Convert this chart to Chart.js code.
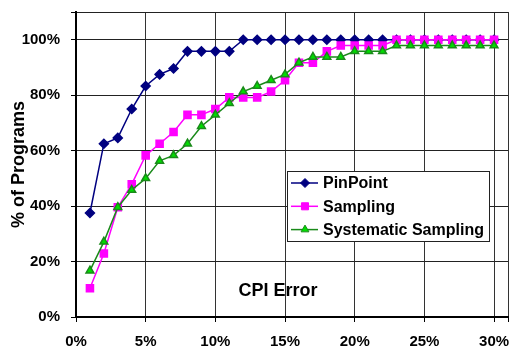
<!DOCTYPE html>
<html>
<head>
<meta charset="utf-8">
<script src="https://cdn.jsdelivr.net/npm/chart.js@4/dist/chart.umd.min.js"></script>
<style>
  html, body { margin: 0; padding: 0; background: #fff; overflow: hidden; }
  #grafica { display: block; }
</style>
</head>
<body>
<canvas id="grafica" width="509" height="347"></canvas>
<script>
// error de CPI (%) en el eje x
var errores = [1, 2, 3, 4, 5, 6, 7, 8, 9, 10, 11, 12, 13, 14, 15,
  16, 17, 18, 19, 20, 21, 22, 23, 24, 25, 26, 27, 28, 29, 30];

// % de programas por serie
var pinpoint = [37.5, 62.5, 64.6, 75, 83.3, 87.5, 89.6, 95.8, 95.8, 95.8, 95.8,
  100, 100, 100, 100, 100, 100, 100, 100, 100, 100, 100, 100, 100, 100, 100, 100, 100, 100, 100];
var sampling = [10.4, 22.9, 39.6, 47.9, 58.3, 62.5, 66.7, 72.9, 72.9, 75, 79.2,
  79.2, 79.2, 81.3, 85.4, 91.7, 91.7, 95.8, 97.9, 97.9, 97.9, 97.9,
  100, 100, 100, 100, 100, 100, 100, 100];
var systematic = [16.7, 27.1, 39.6, 45.8, 50, 56.3, 58.3, 62.5, 68.8, 72.9, 77.1,
  81.3, 83.3, 85.4, 87.5, 91.7, 93.8, 93.8, 93.8, 95.8, 95.8, 95.8,
  97.9, 97.9, 97.9, 97.9, 97.9, 97.9, 97.9, 97.9];

var nombres = ["PinPoint", "Sampling", "Systematic Sampling"];
var ticksY = [0, 20, 40, 60, 80, 100];
var ticksX = [0, 5, 10, 15, 20, 25, 30];

function puntos(valores) {
  return errores.map((x, i) => ({ x: x, y: valores[i] }));
}

var fuente = "'Liberation Sans', Arial, sans-serif";
Chart.defaults.font.family = fuente;
Chart.defaults.color = "#000";

// leyenda dentro del area de la grafica
const leyenda = {
  id: "leyenda",
  afterDraw(chart) {
    const ctx = chart.ctx;
    const x0 = 287, y0 = 171, w = 202, h = 70;
    ctx.save();
    ctx.fillStyle = "#fff";
    ctx.fillRect(x0, y0, w, h);
    ctx.strokeStyle = "#222";
    ctx.lineWidth = 1;
    ctx.strokeRect(x0 + 0.5, y0 + 0.5, w, h);
    chart.data.datasets.forEach((ds, i) => {
      const y = 183 + i * 23.3;
      ctx.strokeStyle = ds.borderColor;
      ctx.lineWidth = 1.5;
      ctx.beginPath();
      ctx.moveTo(291, y);
      ctx.lineTo(318, y);
      ctx.stroke();
      ctx.fillStyle = ds.pointBackgroundColor;
      ctx.strokeStyle = ds.pointBorderColor;
      ctx.lineWidth = 1;
      Chart.helpers.drawPoint(ctx, { pointStyle: ds.pointStyle, radius: ds.pointRadius, rotation: 0, borderWidth: 1 }, 305, y);
      ctx.fillStyle = "#000";
      ctx.font = "bold 16px " + fuente;
      ctx.textBaseline = "middle";
      ctx.fillText(ds.label, 323, y + 1);
    });
    // titulo del eje x, va dentro de la grafica
    ctx.font = "bold 18px " + fuente;
    ctx.textAlign = "center";
    ctx.fillText("CPI Error", 278, 291);
    ctx.restore();
  }
};

const graficaCPI = document.querySelector("#grafica");
new Chart(graficaCPI, {
  type: "line",
  data: {
    datasets: [
      {
        label: nombres[0],
        data: puntos(pinpoint),
        borderColor: "#000080",
        borderWidth: 1.5,
        pointStyle: "rectRot",
        pointRadius: 4.5,
        pointBackgroundColor: "#000080",
        pointBorderColor: "#000080",
        order: 3,
      },
      {
        label: nombres[1],
        data: puntos(sampling),
        borderColor: "#ff00ff",
        borderWidth: 1.5,
        pointStyle: "rect",
        pointRadius: 5,
        pointBackgroundColor: "#ff00ff",
        pointBorderColor: "#ff00ff",
        order: 2,
      },
      {
        label: nombres[2],
        data: puntos(systematic),
        borderColor: "#1a8a1a",
        borderWidth: 1.5,
        pointStyle: "triangle",
        pointRadius: 4.5,
        pointBackgroundColor: "#00dd00",
        pointBorderColor: "#1a8a1a",
        order: 1,
      },
    ],
  },
  options: {
    responsive: false,
    animation: false,
    layout: { autoPadding: false, padding: { left: 0, right: 1, top: 12, bottom: 0 } },
    plugins: {
      legend: { display: false },
      tooltip: { enabled: false },
    },
    scales: {
      x: {
        type: "linear",
        min: 0,
        max: 31,
        afterBuildTicks: (eje) => {
          eje.ticks = ticksX.concat([31]).map((v) => ({ value: v }));
        },
        afterFit: (eje) => {
          eje.height = 30;
          eje.paddingLeft = 0;
          eje.paddingRight = 0;
        },
        ticks: {
          autoSkip: false,
          maxRotation: 0,
          padding: 11,
          font: { size: 15, weight: "bold" },
          callback: (v) => (v <= 30 ? v + "%" : ""),
        },
        grid: { color: "#333", lineWidth: 1, tickLength: 5, tickColor: "#000" },
        border: { color: "#000", width: 2 },
      },
      y: {
        min: 0,
        max: 110,
        afterBuildTicks: (eje) => {
          eje.ticks = ticksY.concat([110]).map((v) => ({ value: v }));
        },
        afterFit: (eje) => {
          eje.width = 76;
          eje.paddingTop = 0;
          eje.paddingBottom = 0;
        },
        ticks: {
          padding: 11,
          font: { size: 15, weight: "bold" },
          callback: (v) => (v <= 100 ? v + "%" : ""),
        },
        grid: { color: "#222", lineWidth: 1, tickLength: 5, tickColor: "#000" },
        border: { color: "#000", width: 2 },
        title: {
          display: true,
          text: "% of Programs",
          font: { size: 18, weight: "bold" },
          padding: { top: 8, bottom: 0 },
        },
      },
    },
  },
  plugins: [leyenda],
});
</script>
</body>
</html>
